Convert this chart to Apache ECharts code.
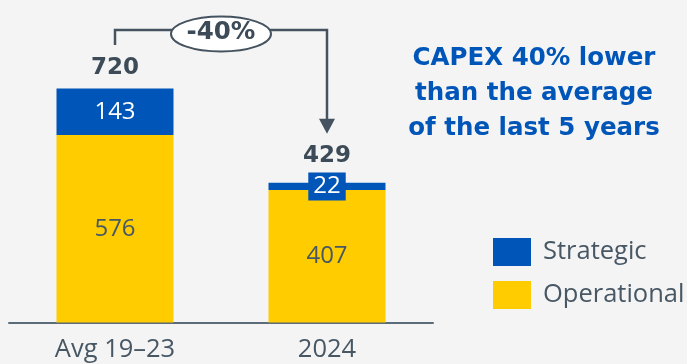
<!DOCTYPE html>
<html><head><meta charset="utf-8">
<script src="https://cdn.jsdelivr.net/npm/echarts@6/dist/echarts.min.js"></script>
<style>html,body{margin:0;padding:0;background:#f4f4f4;}#c{width:687px;height:364px;}</style>
</head><body><div id="c"></div>
<script>
const categories = ['Avg 19\u201323', '2024'];
const operational = [576, 407];
const strategic = [143, 22];
const totals = [720, 429];
const changeLabel = '-40%';
const headline = 'CAPEX 40% lower\nthan the average\nof the last 5 years';

const BLUE = '#0055b8', YELLOW = '#ffcc00', GREY = '#475764', FONT = 'Open Sans', BFONT = 'DejaVu Sans';
const totalDist = [9, 15];

const chart = echarts.init(document.getElementById('c'), null, {renderer: 'canvas'});
chart.setOption({
  animation: false,
  backgroundColor: '#f4f4f4',
  textStyle: {fontFamily: FONT},
  title: {
    text: headline, left: 534, top: 41, textAlign: 'center', padding: 0,
    textStyle: {color: BLUE, fontSize: 24.5, fontWeight: 'bold', lineHeight: 35, fontFamily: BFONT}
  },
  legend: {
    data: ['Strategic', 'Operational'], orient: 'vertical', left: 493, top: 238,
    itemWidth: 38, itemHeight: 28, itemGap: 15, icon: 'rect', padding: 0,
    textStyle: {color: GREY, fontSize: 25.5, fontFamily: FONT, padding: [0, 0, 0, 7]}
  },
  grid: {left: 9, right: 254, top: 62, bottom: 41.5},
  xAxis: {
    type: 'category', data: categories,
    axisLine: {lineStyle: {color: '#5b6b78', width: 2}},
    axisTick: {show: false},
    axisLabel: {color: GREY, fontSize: 25.5, margin: 14, fontFamily: FONT}
  },
  yAxis: {type: 'value', min: 0, max: 800, show: false, splitLine: {show: false}},
  series: [
    {name: 'Operational', type: 'bar', stack: 'a', barWidth: 117, data: operational,
      itemStyle: {color: YELLOW},
      label: {show: true, position: 'inside', color: GREY, fontSize: 24, fontFamily: FONT}},
    {name: 'Strategic', type: 'bar', stack: 'a', barWidth: 117, data: strategic,
      itemStyle: {color: BLUE},
      label: {show: true, position: 'inside', color: '#fff', fontSize: 24, fontFamily: FONT,
        backgroundColor: BLUE, padding: [3, 5, 1, 5]}},
    {name: 'Total', type: 'scatter', symbolSize: 0, silent: true,
      itemStyle: {opacity: 1, color: '#3c4b57'},
      data: totals.map((v, i) => ({value: [i, v], label: {distance: totalDist[i]}})),
      label: {show: true, position: 'top', color: '#3c4b57', opacity: 1, fontSize: 23, fontWeight: 'bold', fontFamily: BFONT,
        formatter: p => p.value[1]}}
  ]
});

const p0 = chart.convertToPixel({xAxisIndex: 0, yAxisIndex: 0}, [0, totals[0]]);
const p1 = chart.convertToPixel({xAxisIndex: 0, yAxisIndex: 0}, [1, totals[1]]);
const lineY = 30, midX = (p0[0] + p1[0]) / 2;
const lineColor = '#44535f';
chart.setOption({
  graphic: [
    {type: 'polyline', shape: {points: [[p0[0], p0[1] - 43], [p0[0], lineY], [p1[0], lineY], [p1[0], p1[1] - 60]]},
      style: {stroke: lineColor, lineWidth: 2.5, fill: null}},
    {type: 'polygon', shape: {points: [[p1[0] - 8, p1[1] - 64], [p1[0] + 8, p1[1] - 64], [p1[0], p1[1] - 49]]},
      style: {fill: lineColor}},
    {type: 'ellipse', shape: {cx: midX, cy: 34, rx: 50, ry: 17.5},
      style: {fill: '#fff', stroke: lineColor, lineWidth: 2}},
    {type: 'text', x: midX, y: 33, style: {text: changeLabel, fill: '#3c4b57', font: 'bold 24.5px "DejaVu Sans"', align: 'center', verticalAlign: 'middle'}}
  ]
});
</script></body></html>
